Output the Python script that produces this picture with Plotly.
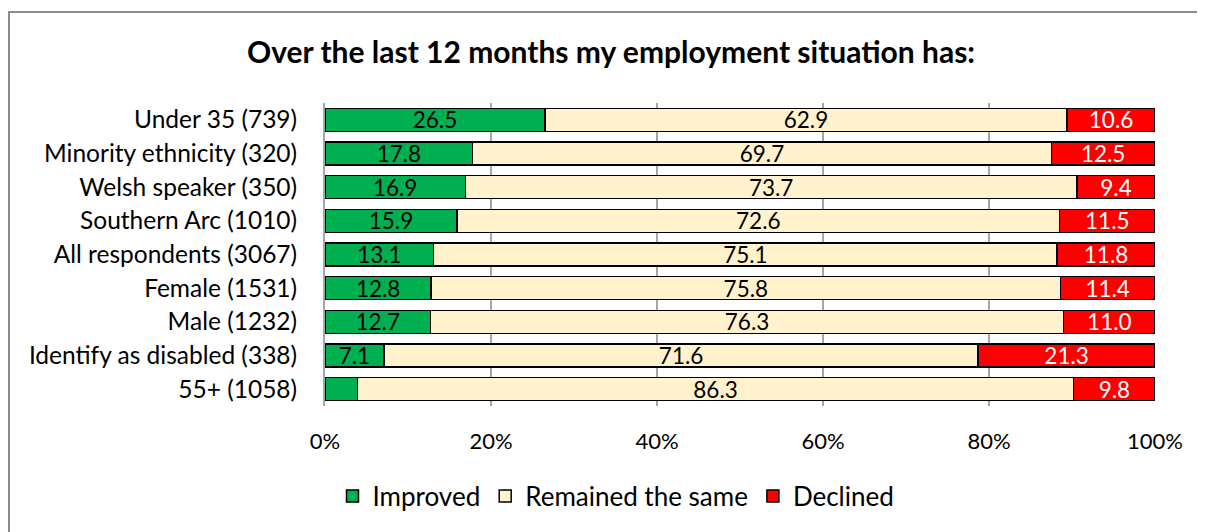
import plotly.graph_objects as go

categories = ["Under 35 (739)", "Minority ethnicity (320)", "Welsh speaker (350)",
              "Southern Arc (1010)", "All respondents (3067)", "Female (1531)",
              "Male (1232)", "Identify as disabled (338)", "55+ (1058)"]
improved = [26.5, 17.8, 16.9, 15.9, 13.1, 12.8, 12.7, 7.1, 3.9]
same = [62.9, 69.7, 73.7, 72.6, 75.1, 75.8, 76.3, 71.6, 86.3]
declined = [10.6, 12.5, 9.4, 11.5, 11.8, 11.4, 11.0, 21.3, 9.8]
improved_labels = ["26.5", "17.8", "16.9", "15.9", "13.1", "12.8", "12.7", "7.1", ""]

FONT = "Lato, Carlito, Calibri, sans-serif"

fig = go.Figure()
series = [
    ("Improved", improved, "#00B050", "black", improved_labels),
    ("Remained the same", same, "#FFF2CC", "black", [f"{v:.1f}" for v in same]),
    ("Declined", declined, "#FF0000", "white", [f"{v:.1f}" for v in declined]),
]
for name, vals, col, tcol, labels in series:
    fig.add_trace(go.Bar(
        name=name, y=categories, x=vals, orientation="h",
        marker=dict(color=col, line=dict(color="black", width=1.5)),
        text=labels, textposition="inside", insidetextanchor="middle",
        textangle=0, constraintext="none",
        textfont=dict(color=tcol, size=22.5, family=FONT),
        hoverinfo="x+name",
    ))

# page body has an 8px margin, so the figure is offset by 8px
W, H = 1197, 524
L, T = 317, 95
pw, ph = 830, 303
R = W - L - pw
B = H - T - ph
bottom = T + ph

fig.update_layout(
    width=W, height=H,
    barmode="stack", bargap=0.32,
    margin=dict(l=L, r=R, t=T, b=B, autoexpand=False),
    paper_bgcolor="white", plot_bgcolor="white",
    font=dict(family=FONT, size=22, color="black"),
    title=dict(text="<b>Over the last 12 months my employment situation has:</b>",
               x=603 / W, xanchor="center", y=1 - 44 / H, yanchor="middle",
               font=dict(size=30, family=FONT, color="black")),
    xaxis=dict(range=[0, 100], tickvals=[0, 20, 40, 60, 80, 100],
               ticktext=["0%", "20%", "40%", "60%", "80%", "100%"],
               showgrid=True, gridcolor="#A6A6A6", gridwidth=1.5,
               zeroline=False, showline=False, ticks="", ticklen=0,
               ticklabelstandoff=20,
               tickfont=dict(size=22, family=FONT), fixedrange=True),
    yaxis=dict(autorange="reversed", showline=True, linecolor="#A6A6A6", linewidth=2,
               ticks="", tickfont=dict(size=24.5, family=FONT), ticklabelstandoff=21,
               showgrid=False),
    legend=dict(orientation="h", x=(608 - L) / pw, xanchor="center",
                y=-(488 - bottom) / ph, yanchor="middle",
                font=dict(size=26, family=FONT),
                itemwidth=30, traceorder="normal"),
    showlegend=True,
    shapes=[dict(type="rect", xref="paper", yref="paper",
                 x0=(1 - L) / pw, x1=(1215 - L) / pw,
                 y0=-(545 - bottom) / ph, y1=(bottom - 4) / ph,
                 line=dict(color="#8C8C8C", width=2), fillcolor="rgba(0,0,0,0)",
                 layer="below")],
)

fig.write_html("out.html")
